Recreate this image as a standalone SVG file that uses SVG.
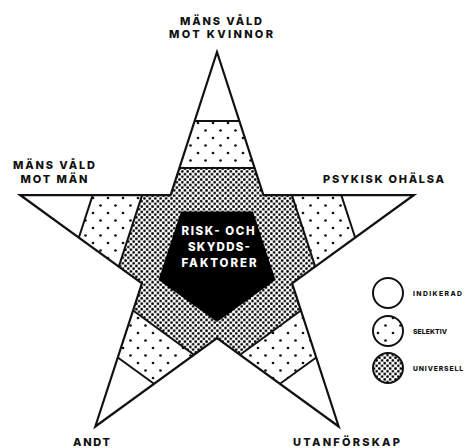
<svg xmlns="http://www.w3.org/2000/svg" width="465" height="448" viewBox="0 0 465 448">
<style>
.lbl{font-family:"Inter","Lato","Liberation Sans",Arial,sans-serif;font-weight:800;font-size:11px;fill:#111;text-anchor:middle}
.ctr{font-family:"Inter","Lato","Liberation Sans",Arial,sans-serif;font-weight:800;font-size:11.5px;fill:#fff;text-anchor:middle}
.leg{font-family:"Inter","Lato","Liberation Sans",Arial,sans-serif;font-weight:800;font-size:6.8px;fill:#111}
.edge{fill:none;stroke:#111;stroke-width:2.2;stroke-linejoin:miter}
.sep{stroke:#111;stroke-width:2;fill:none}
.white{fill:#fff}
.sel{fill:url(#selektiv)}
.uni{fill:url(#universell)}
</style>
<defs>
<pattern id="selektiv" patternUnits="userSpaceOnUse" width="15" height="15">
<rect width="15" height="15" fill="#fff"/>
<circle cx="3" cy="3" r="1.35" fill="#111"/>
<circle cx="10.5" cy="10.5" r="1.35" fill="#111"/>
</pattern>
<pattern id="universell" patternUnits="userSpaceOnUse" width="5.4" height="5.4">
<rect width="5.4" height="5.4" fill="#fff"/>
<circle cx="1.35" cy="1.35" r="1.35" fill="#000"/>
<circle cx="4.05" cy="4.05" r="1.35" fill="#000"/>
</pattern>
</defs>
<rect width="465" height="448" fill="#fff"/>

<g id="star">
<polygon class="uni" points="217,52 263.4,195.1 413.9,195 292.1,283.4 338.7,426.5 217,338 95.3,426.5 141.9,283.4 20.1,195 170.6,195.1"/>
</g>

<g id="arm-mans-vald-mot-kvinnor">
<polygon class="sel" points="194.6,121 239.4,121 254.6,168 179.4,168"/>
<polygon class="white" points="217,52 239.4,121 194.6,121"/>
<line class="sep" x1="194.6" y1="121" x2="239.4" y2="121"/>
<line class="sep" x1="179.4" y1="168" x2="254.6" y2="168"/>
</g>
<g id="arm-psykisk-ohalsa">
<polygon class="sel" points="341.3,195.1 355.2,237.7 315.2,266.6 291.9,195.1"/>
<polygon class="white" points="413.9,195 355.2,237.7 341.3,195.1"/>
<line class="sep" x1="341.3" y1="195.1" x2="355.2" y2="237.7"/>
<line class="sep" x1="291.9" y1="195.1" x2="315.2" y2="266.6"/>
</g>
<g id="arm-utanforskap">
<polygon class="sel" points="316.2,357.5 280,383.8 240.1,354.7 300.9,310.5"/>
<polygon class="white" points="338.7,426.5 280,383.8 316.2,357.5"/>
<line class="sep" x1="316.2" y1="357.5" x2="280" y2="383.8"/>
<line class="sep" x1="300.9" y1="310.5" x2="240.1" y2="354.7"/>
</g>
<g id="arm-andt">
<polygon class="sel" points="154,383.8 117.8,357.5 133.1,310.5 193.9,354.7"/>
<polygon class="white" points="95.3,426.5 117.8,357.5 154,383.8"/>
<line class="sep" x1="154" y1="383.8" x2="117.8" y2="357.5"/>
<line class="sep" x1="193.9" y1="354.7" x2="133.1" y2="310.5"/>
</g>
<g id="arm-mans-vald-mot-man">
<polygon class="sel" points="78.8,237.7 92.7,195.1 142.1,195.1 118.8,266.6"/>
<polygon class="white" points="20.1,195 92.7,195.1 78.8,237.7"/>
<line class="sep" x1="78.8" y1="237.7" x2="92.7" y2="195.1"/>
<line class="sep" x1="118.8" y1="266.6" x2="142.1" y2="195.1"/>
</g>

<g id="star-outline">
<polygon class="edge" points="217,52 263.4,195.1 413.9,195 292.1,283.4 338.7,426.5 217,338 95.3,426.5 141.9,283.4 20.1,195 170.6,195.1"/>
</g>

<g id="center">
<polygon fill="#000" points="181,211.5 253,211.5 275.5,280 217,322 158.5,280"/>
<text class="ctr" x="218" y="235" textLength="73">RISK- OCH</text>
<text class="ctr" x="219" y="251" textLength="62">SKYDDS-</text>
<text class="ctr" x="219" y="267" textLength="75">FAKTORER</text>
</g>

<g id="labels">
<text class="lbl" x="221" y="25" textLength="82">MÄNS VÅLD</text>
<text class="lbl" x="221" y="38" textLength="104">MOT KVINNOR</text>
<text class="lbl" x="54" y="169" textLength="82">MÄNS VÅLD</text>
<text class="lbl" x="54" y="183" textLength="67">MOT MÄN</text>
<text class="lbl" x="383.5" y="183" textLength="121">PSYKISK OHÄLSA</text>
<text class="lbl" x="91.5" y="446" textLength="37">ANDT</text>
<text class="lbl" x="346.5" y="446" textLength="107">UTANFÖRSKAP</text>
</g>

<g id="legend-indikerad">
<circle cx="388" cy="293" r="15" fill="#fff" stroke="#111" stroke-width="2"/>
<text class="leg" x="413" y="296" textLength="49">INDIKERAD</text>
</g>
<g id="legend-selektiv">
<circle cx="388" cy="331" r="15" class="sel" stroke="#111" stroke-width="2"/>
<text class="leg" x="413" y="334" textLength="34">SELEKTIV</text>
</g>
<g id="legend-universell">
<circle cx="388" cy="368" r="15" class="uni" stroke="#111" stroke-width="2"/>
<text class="leg" x="413" y="371" textLength="50">UNIVERSELL</text>
</g>
</svg>
